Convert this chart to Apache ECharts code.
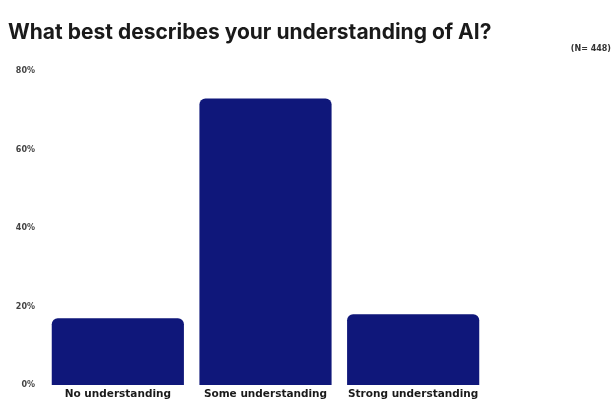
<!DOCTYPE html>
<html>
<head>
<meta charset="utf-8">
<script src="https://cdn.jsdelivr.net/npm/echarts@6/dist/echarts.min.js"></script>
<style>
  html, body { margin: 0; padding: 0; background: #ffffff; }
  #chart { width: 615px; height: 408px; }
</style>
</head>
<body>
<div id="chart"></div>
<script>
// Survey responses: share of respondents per level of AI understanding
const categories = ['No understanding', 'Some understanding', 'Strong understanding'];
const shares = [17, 73, 18];
const yTicks = [0, 20, 40, 60, 80];

const chart = echarts.init(document.getElementById('chart'), null, { renderer: 'canvas' });

chart.setOption({
  backgroundColor: '#ffffff',
  animation: false,
  title: [
    {
      text: 'What best describes your understanding of AI?',
      left: 3,
      top: 17,
      textStyle: {
        fontFamily: 'Inter',
        fontSize: 21,
        fontWeight: 'bold',
        color: '#1a1a1a'
      }
    },
    {
      text: '(N= 448)',
      right: -1,
      top: 40,
      textStyle: {
        fontFamily: 'DejaVu Sans',
        fontSize: 8,
        fontWeight: 'bold',
        color: '#333333'
      }
    }
  ],
  grid: { left: 44, right: 128, top: 71, bottom: 23, containLabel: false },
  xAxis: {
    type: 'category',
    data: categories,
    axisLine: { show: false },
    axisTick: { show: false },
    axisLabel: {
      interval: 0,
      hideOverlap: false,
      margin: 4,
      fontFamily: 'DejaVu Sans',
      fontSize: 10.5,
      fontWeight: 'bold',
      color: '#1a1a1a'
    }
  },
  yAxis: {
    type: 'value',
    min: yTicks[0],
    max: yTicks[yTicks.length - 1],
    interval: 20,
    splitLine: { show: false },
    axisLine: { show: false },
    axisTick: { show: false },
    axisLabel: {
      margin: 9,
      fontFamily: 'DejaVu Sans',
      fontSize: 8,
      fontWeight: 'bold',
      color: '#444444',
      formatter: '{value}%'
    }
  },
  series: [
    {
      type: 'bar',
      data: shares,
      barCategoryGap: '10.5%',
      itemStyle: {
        color: '#0f177a',
        borderRadius: [6, 6, 0, 0]
      }
    }
  ]
});
</script>
</body>
</html>
